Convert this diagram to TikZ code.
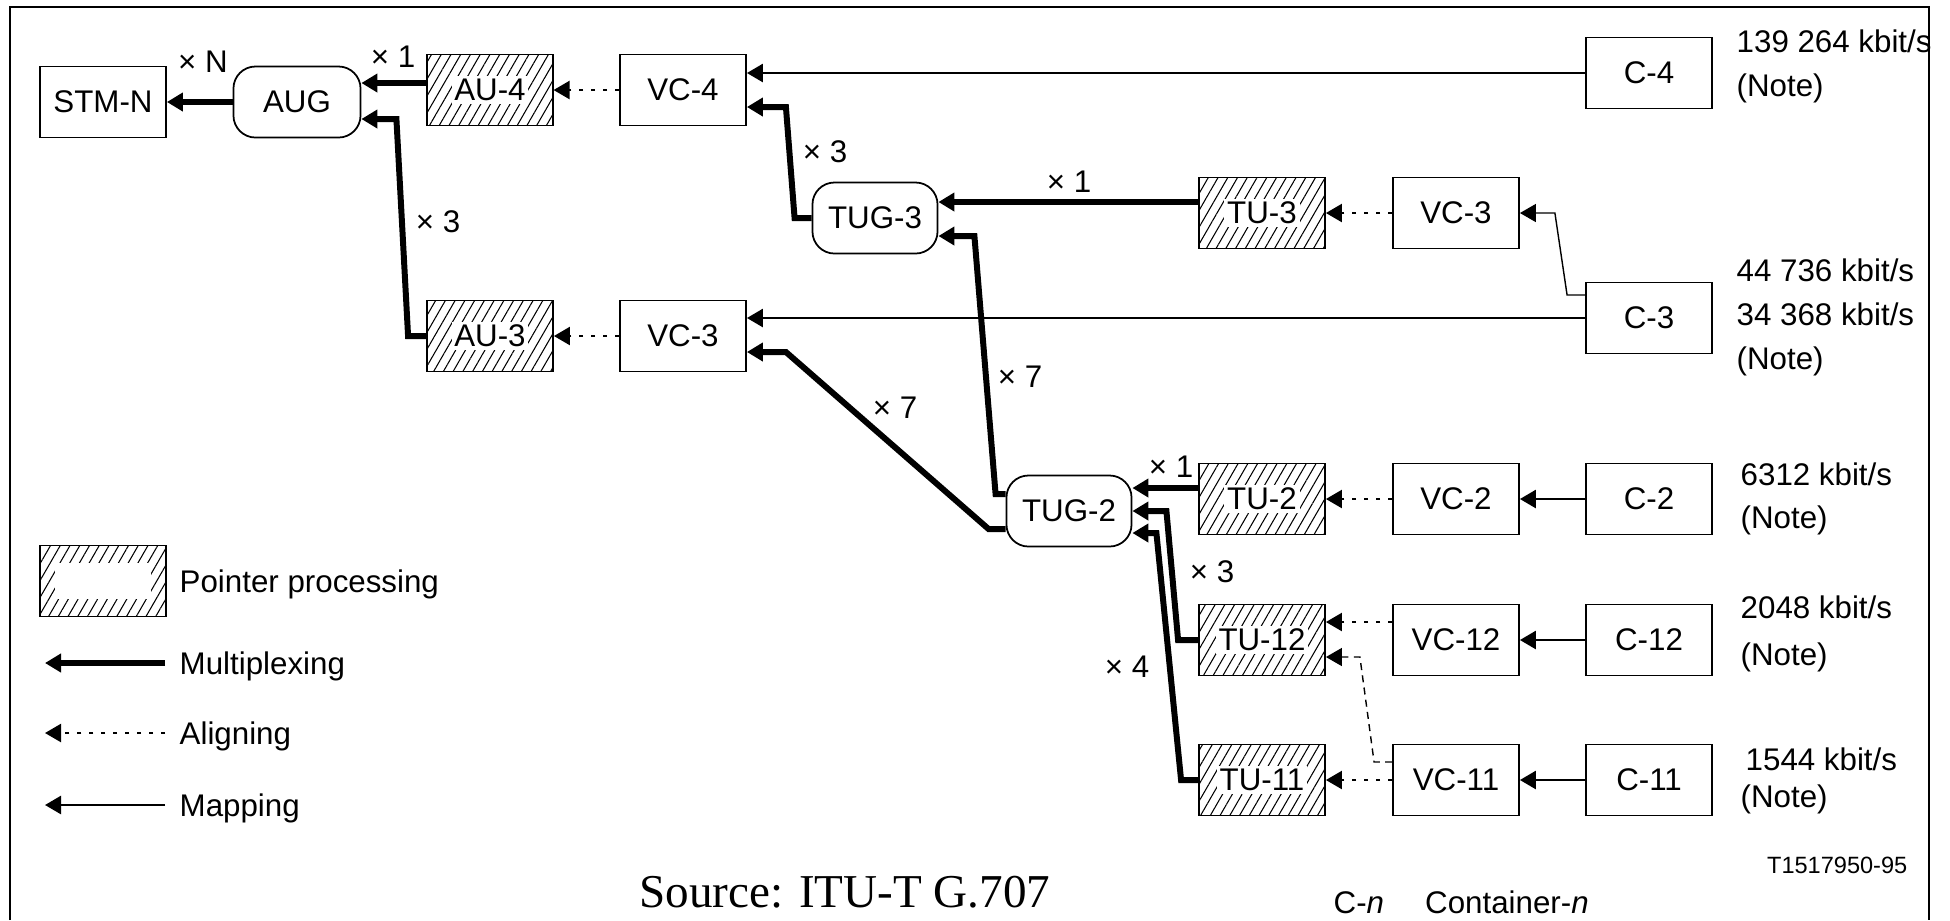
\documentclass[tikz,border=0pt]{standalone}
\usepackage{fontspec}
\setmainfont{Liberation Sans}
\newfontfamily\srcfont{Liberation Serif}
\usetikzlibrary{arrows.meta,calc,patterns.meta}
\newcommand{\ptrtxt}[1]{{\setlength{\fboxsep}{0.8pt}\colorbox{white}{#1}}}
\tikzset{
  box/.style       = {rectangle, draw, line width=0.5pt, minimum width=1.26cm,
                      minimum height=0.71cm, inner sep=0pt},
  ptr/.style       = {box, pattern={Lines[angle=60,distance=2.4pt,line width=0.3pt]}},
  grp/.style       = {box, minimum width=1.25cm, rounded corners=0.22cm},
  muxline/.style   = {-{Triangle[length=1.6mm,width=1.8mm]}, line width=1.7pt},
  alignline/.style = {-{Triangle[length=1.6mm,width=1.8mm]}, line width=0.65pt,
                      dash pattern=on 1.1pt off 2.3pt},
  mapline/.style   = {-{Triangle[length=1.6mm,width=1.8mm]}, line width=0.75pt},
  subline/.style   = {-{Triangle[length=1.6mm,width=1.8mm]}, line width=0.4pt,
                      dash pattern=on 2pt off 1.5pt},
  mult/.style      = {inner sep=0pt},
  rate/.style      = {anchor=base west, inner sep=0pt},
  legtext/.style   = {anchor=base west, inner sep=0pt},
}

\begin{document}
\begin{tikzpicture}[x=0.01cm, y=-0.01cm, font=\fontsize{8.9}{10.7}\selectfont]
  \useasboundingbox (0,0) rectangle (1950,920);
  % frame
  \draw[line width=0.5pt] (10,920) -- (10,7) -- (1929,7) -- (1929,920);

  % AU-4 / AU-3 branch
  \node[box] (stm) at (103,102) {STM-N};
  \node[grp, minimum width=1.27cm] (aug) at (297,102) {AUG};
  \node[ptr] (au4) at (490,90) {\ptrtxt{AU-4}};
  \node[box] (vc4) at (683,90) {VC-4};
  \node[box] (c4) at (1649,73) {C-4};
  \node[ptr] (au3) at (490,336) {\ptrtxt{AU-3}};
  \node[box] (vc3b) at (683,336) {VC-3};

  % TUG-3 branch
  \node[grp] (tug3) at (875,218) {TUG-3};
  \node[ptr] (tu3) at (1262,213) {\ptrtxt{TU-3}};
  \node[box] (vc3a) at (1456,213) {VC-3};
  \node[box] (c3) at (1649,318) {C-3};

  % TUG-2 branch
  \node[grp] (tug2) at (1069,511) {TUG-2};
  \foreach \n/\y in {2/499,12/640,11/780} {
    \node[ptr] (tu\n) at (1262,\y) {\ptrtxt{TU-\n}};
    \node[box] (vc\n) at (1456,\y) {VC-\n};
    \node[box] (c\n) at (1649,\y) {C-\n};
    \draw[mapline] (c\n) -- (vc\n);
  }

  % mapping
  \draw[mapline] (c4) -- ($(vc4.east)+(0,-17)$);
  \draw[mapline, line width=0.4pt] ($(c3.west)+(0,-23)$) -- ++(-18,0)
    -- ($(vc3a.east)+(35,0)$) -- (vc3a.east);
  \draw[mapline] (c3.west) -- ($(vc3b.east)+(0,-18)$);

  % aligning
  \draw[alignline] (vc4) -- (au4);
  \draw[alignline] (vc3b) -- (au3);
  \draw[alignline] (vc3a) -- (tu3);
  \draw[alignline] (vc2) -- (tu2);
  \draw[alignline] ($(vc12.west)+(0,-18)$) -- ($(tu12.east)+(0,-18)$);
  \draw[alignline] (vc11) -- (tu11);
  \draw[subline] ($(vc11.west)+(0,-18)$) -- ++(-18,0)
    -- ($(tu12.east)+(34,17)$) -- ($(tu12.east)+(0,17)$);

  % multiplexing
  \draw[muxline] (aug) -- (stm);
  \draw[muxline] ($(au4.west)+(0,-7)$) -- ($(aug.east)+(0,-19)$);
  \draw[muxline] (au3.west) -- ++(-18,0) -- ($(aug.east)+(35,17)$) -- ($(aug.east)+(0,17)$);
  \draw[muxline] (tug3.west) -- ++(-17,0) -- ($(vc4.east)+(39,17)$) -- ($(vc4.east)+(0,17)$);
  \draw[muxline] ($(tu3.west)+(0,-11)$) -- ($(tug3.east)+(0,-16)$);
  \draw[muxline] ($(tug2.west)+(0,-17)$) -- ++(-10,0) -- ($(tug3.east)+(36,18)$) -- ($(tug3.east)+(0,18)$);
  \draw[muxline] ($(tug2.west)+(0,18)$) -- ++(-17,0) -- ($(vc3b.east)+(39,16)$) -- ($(vc3b.east)+(0,16)$);
  \draw[muxline] ($(tu2.west)+(0,-11)$) -- ($(tug2.east)+(0,-23)$);
  \draw[muxline] (tu12.west) -- ++(-20,0) -- ($(tug2.east)+(34,0)$) -- (tug2.east);
  \draw[muxline] (tu11.west) -- ++(-17,0) -- ($(tug2.east)+(24,22)$) -- ($(tug2.east)+(0,22)$);

  % multiplex factors
  \node[mult] (xn)  at (203,62)   {× N};
  \node[mult] (x1a) at (393,57)   {× 1};
  \node[mult] (x3a) at (438,222)  {× 3};
  \node[mult] (x3b) at (825,152)  {× 3};
  \node[mult] (x1b) at (1069,182) {× 1};
  \node[mult] (x7a) at (895,408)  {× 7};
  \node[mult] (x7b) at (1020,377) {× 7};
  \node[mult] (x1c) at (1171,467) {× 1};
  \node[mult] (x3c) at (1212,572) {× 3};
  \node[mult] (x4)  at (1127,667) {× 4};

  % tributary rates
  \node[rate] (r4a)  at (1736,52)  {139 264 kbit/s};
  \node[rate] (r4b)  at (1736,96)  {(Note)};
  \node[rate] (r3a)  at (1736,281) {44 736 kbit/s};
  \node[rate] (r3b)  at (1736,325) {34 368 kbit/s};
  \node[rate] (r3c)  at (1736,369) {(Note)};
  \node[rate] (r2a)  at (1740,485) {6312 kbit/s};
  \node[rate] (r2b)  at (1740,528) {(Note)};
  \node[rate] (r12a) at (1740,618) {2048 kbit/s};
  \node[rate] (r12b) at (1740,665) {(Note)};
  \node[rate] (r11a) at (1745,770) {1544 kbit/s};
  \node[rate] (r11b) at (1740,807) {(Note)};

  % legend
  \node[ptr] (lgptr) at (103,581) {\ptrtxt{\rule{0pt}{0.3cm}\hspace{0.9cm}}\hspace{0.18cm}};
  \node[legtext] (lgptrt) at (179,592) {Pointer processing};
  \coordinate (lgm0) at (165,663); \coordinate (lgm1) at (45,663);
  \coordinate (lga0) at (165,733); \coordinate (lga1) at (45,733);
  \coordinate (lgp0) at (165,805); \coordinate (lgp1) at (45,805);
  \draw[muxline] (lgm0) -- (lgm1);
  \draw[alignline] (lga0) -- (lga1);
  \draw[mapline] (lgp0) -- (lgp1);
  \node[legtext] (lgmt) at (179,674) {Multiplexing};
  \node[legtext] (lgat) at (179,744) {Aligning};
  \node[legtext] (lgpt) at (179,816) {Mapping};

  % footer
  \node[anchor=west, font=\srcfont\fontsize{13.4}{16}\selectfont] (src) at (627,892) {Source: ITU-T G.707};
  \node[anchor=base east, inner sep=0pt, font=\fontsize{6.7}{8}\selectfont] (fig) at (1908,873) {T1517950-95};
  \node[anchor=base west, inner sep=0pt] (cn) at (1333,913) {C-\textit{n}\hspace{0.41cm}Container-\textit{n}};
\end{tikzpicture}
\end{document}
